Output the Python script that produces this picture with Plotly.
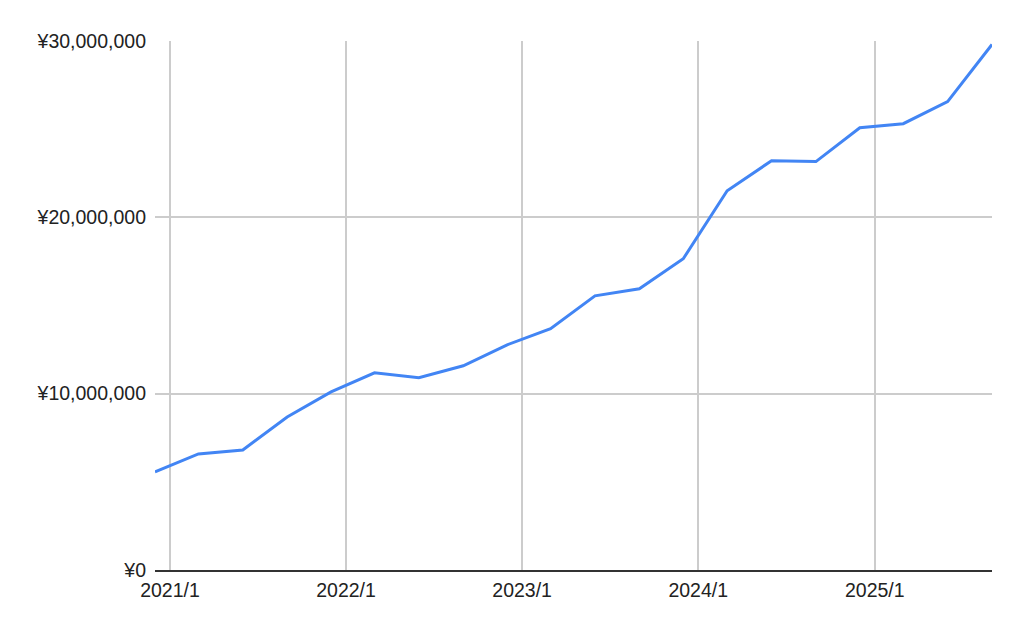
import plotly.graph_objects as go

dates = ["2020-12-01", "2021-03-01", "2021-06-01", "2021-09-01", "2021-12-01",
         "2022-03-01", "2022-06-01", "2022-09-01", "2022-12-01",
         "2023-03-01", "2023-06-01", "2023-09-01", "2023-12-01",
         "2024-03-01", "2024-06-01", "2024-09-01", "2024-12-01",
         "2025-03-01", "2025-06-01", "2025-09-01"]
values = [5560000, 6580000, 6810000, 8680000, 10100000,
          11180000, 10900000, 11580000, 12770000,
          13680000, 15550000, 15950000, 17650000,
          21510000, 23210000, 23160000, 25080000,
          25310000, 26560000, 29800000]
x_tick_vals = ["2021-01-01", "2022-01-01", "2023-01-01", "2024-01-01", "2025-01-01"]
x_tick_text = ["2021/1", "2022/1", "2023/1", "2024/1", "2025/1"]
y_tick_vals = [0, 10000000, 20000000, 30000000]
y_tick_text = ["¥0", "¥10,000,000", "¥20,000,000", "¥30,000,000"]

fig = go.Figure()
fig.add_trace(go.Scatter(x=dates, y=values, mode="lines",
                         line=dict(color="#4285F4", width=3)))

fig.update_layout(
    width=1024, height=633,
    margin=dict(l=155, r=32, t=41, b=63),
    plot_bgcolor="white", paper_bgcolor="white",
    font=dict(family="Liberation Sans, Arial, sans-serif", size=19.5, color="#222222"),
    showlegend=False,
    xaxis=dict(range=["2020-12-01", "2025-09-01"], tickvals=x_tick_vals, ticktext=x_tick_text,
               showgrid=True, gridcolor="#cccccc", gridwidth=1.5,
               showline=True, linecolor="#333333", linewidth=1.5,
               ticks="", ticklabelstandoff=2),
    yaxis=dict(range=[0, 30000000], tickvals=y_tick_vals, ticktext=y_tick_text,
               showgrid=True, gridcolor="#cccccc", gridwidth=1.5, zeroline=False,
               ticks="", ticklabelstandoff=8),
)

fig.write_html("out.html", config={"displayModeBar": False},
               post_script="document.body.style.margin='0';document.body.style.overflow='hidden';")
